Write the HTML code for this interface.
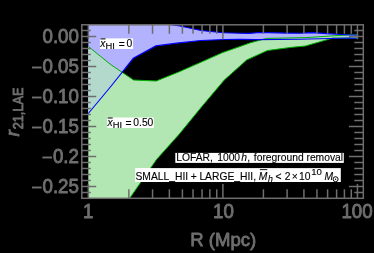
<!DOCTYPE html>
<html>
<head>
<meta charset="utf-8">
<style>
html,body{margin:0;padding:0;background:#000;width:374px;height:253px;overflow:hidden}
svg{position:absolute;left:0;top:0;display:block;will-change:transform;filter:blur(0.3px)}
text{font-family:"Liberation Sans",sans-serif}
.tl{fill:#6e6e6e;font-size:19px;stroke:#6e6e6e;stroke-width:0.85px;stroke-linejoin:round}
.an{fill:#000;font-size:10.3px;stroke:#000;stroke-width:0.12px}
</style>
</head>
<body>
<svg width="374" height="253" viewBox="0 0 374 253">
<defs>
<clipPath id="cp"><rect x="81.8" y="24.8" width="281.5" height="173.5"/></clipPath>
<clipPath id="bl"><polygon points="88.3,-20 150,10 170,24.5 180,26 201,30.5 223,32.7 240,33.2 249,33.4 260,32.5 286,33.1 300,33.3 312,32.6 326.7,33.6 350,35 357.3,35.1 357.3,38.2 350,38 300,39.3 256,39.6 240,39.4 225,39.5 201,40.5 178.7,42.9 155.9,45.9 133.3,58.3 110.8,86.5 88.3,113.5"/></clipPath>
</defs>
<rect x="0" y="0" width="374" height="253" fill="#000"/>
<g clip-path="url(#cp)">
<polygon fill="#b2e6b2" points="88.3,46.5 110.9,64.7 133.5,80 156.3,81 178.7,72 201.3,62.1 222.6,52.6 240,46.5 250.3,42.8 266.7,38.4 306,37.6 350,34.8 357.3,34.6 357.3,38.2 332.8,38.1 305.3,46 291.7,47.3 267.4,50.5 246.7,59.9 224.2,80.1 201.7,106.7 179.1,134.3 156.5,159.5 129.2,199 110.4,226 88.3,260"/>
<polygon fill="#b2b2ff" points="88.3,-20 150,10 170,24.5 180,26 201,30.5 223,32.7 240,33.2 249,33.4 260,32.5 286,33.1 300,33.3 312,32.6 326.7,33.6 350,35 357.3,35.1 357.3,38.2 350,38 300,39.3 256,39.6 240,39.4 225,39.5 201,40.5 178.7,42.9 155.9,45.9 133.3,58.3 110.8,86.5 88.3,113.5"/>
<g clip-path="url(#bl)"><polygon fill="#b3d8cc" points="88.3,46.5 110.9,64.7 133.5,80 156.3,81 178.7,72 201.3,62.1 222.6,52.6 240,46.5 250.3,42.8 266.7,38.4 306,37.6 350,34.8 357.3,34.6 357.3,38.2 332.8,38.1 305.3,46 291.7,47.3 267.4,50.5 246.7,59.9 224.2,80.1 201.7,106.7 179.1,134.3 156.5,159.5 129.2,199 110.4,226 88.3,260"/></g>
<polyline fill="none" stroke="#00b000" stroke-width="1.0" points="88.3,46.5 110.9,64.7 133.5,80 156.3,81 178.7,72 201.3,62.1 222.6,52.6 240,46.5 250.3,42.8 266.7,38.4 306,37.6 350,34.8 357.3,34.6"/>
<polyline fill="none" stroke="#00b000" stroke-width="1.0" points="357.3,38.2 332.8,38.1 305.3,46 291.7,47.3 267.4,50.5 246.7,59.9 224.2,80.1 201.7,106.7 179.1,134.3 156.5,159.5 129.2,199 110.4,226 88.3,260"/>
<polyline fill="none" stroke="#0000ff" stroke-width="1.1" points="88.3,-20 150,10 170,24.5 180,26 201,30.5 223,32.7 240,33.2 249,33.4 260,32.5 286,33.1 300,33.3 312,32.6 326.7,33.6 350,35 357.3,35.1"/>
<polyline fill="none" stroke="#0000ff" stroke-width="1.1" points="357.3,38.2 350,38 300,39.3 256,39.6 240,39.4 225,39.5 201,40.5 178.7,42.9 155.9,45.9 133.3,58.3 110.8,86.5 88.3,113.5"/>
</g>
<g stroke="#6e6e6e" stroke-width="1.5" fill="none">
<rect x="81.8" y="24.8" width="281.5" height="173.5"/>
<line x1="88.35" y1="198.30" x2="88.35" y2="183.90"/>
<line x1="88.35" y1="24.80" x2="88.35" y2="39.20"/>
<line x1="128.85" y1="198.30" x2="128.85" y2="189.30"/>
<line x1="128.85" y1="24.80" x2="128.85" y2="33.80"/>
<line x1="152.55" y1="198.30" x2="152.55" y2="189.30"/>
<line x1="152.55" y1="24.80" x2="152.55" y2="33.80"/>
<line x1="169.36" y1="198.30" x2="169.36" y2="189.30"/>
<line x1="169.36" y1="24.80" x2="169.36" y2="33.80"/>
<line x1="182.40" y1="198.30" x2="182.40" y2="189.30"/>
<line x1="182.40" y1="24.80" x2="182.40" y2="33.80"/>
<line x1="193.05" y1="198.30" x2="193.05" y2="189.30"/>
<line x1="193.05" y1="24.80" x2="193.05" y2="33.80"/>
<line x1="202.06" y1="198.30" x2="202.06" y2="189.30"/>
<line x1="202.06" y1="24.80" x2="202.06" y2="33.80"/>
<line x1="209.86" y1="198.30" x2="209.86" y2="189.30"/>
<line x1="209.86" y1="24.80" x2="209.86" y2="33.80"/>
<line x1="216.74" y1="198.30" x2="216.74" y2="189.30"/>
<line x1="216.74" y1="24.80" x2="216.74" y2="33.80"/>
<line x1="222.90" y1="198.30" x2="222.90" y2="183.90"/>
<line x1="222.90" y1="24.80" x2="222.90" y2="39.20"/>
<line x1="263.40" y1="198.30" x2="263.40" y2="189.30"/>
<line x1="263.40" y1="24.80" x2="263.40" y2="33.80"/>
<line x1="287.10" y1="198.30" x2="287.10" y2="189.30"/>
<line x1="287.10" y1="24.80" x2="287.10" y2="33.80"/>
<line x1="303.91" y1="198.30" x2="303.91" y2="189.30"/>
<line x1="303.91" y1="24.80" x2="303.91" y2="33.80"/>
<line x1="316.95" y1="198.30" x2="316.95" y2="189.30"/>
<line x1="316.95" y1="24.80" x2="316.95" y2="33.80"/>
<line x1="327.60" y1="198.30" x2="327.60" y2="189.30"/>
<line x1="327.60" y1="24.80" x2="327.60" y2="33.80"/>
<line x1="336.61" y1="198.30" x2="336.61" y2="189.30"/>
<line x1="336.61" y1="24.80" x2="336.61" y2="33.80"/>
<line x1="344.41" y1="198.30" x2="344.41" y2="189.30"/>
<line x1="344.41" y1="24.80" x2="344.41" y2="33.80"/>
<line x1="351.29" y1="198.30" x2="351.29" y2="189.30"/>
<line x1="351.29" y1="24.80" x2="351.29" y2="33.80"/>
<line x1="357.45" y1="198.30" x2="357.45" y2="183.90"/>
<line x1="357.45" y1="24.80" x2="357.45" y2="39.20"/>
<line x1="81.80" y1="30.50" x2="90.80" y2="30.50"/>
<line x1="363.30" y1="30.50" x2="354.30" y2="30.50"/>
<line x1="81.80" y1="36.50" x2="96.20" y2="36.50"/>
<line x1="363.30" y1="36.50" x2="348.90" y2="36.50"/>
<line x1="81.80" y1="42.50" x2="90.80" y2="42.50"/>
<line x1="363.30" y1="42.50" x2="354.30" y2="42.50"/>
<line x1="81.80" y1="48.50" x2="90.80" y2="48.50"/>
<line x1="363.30" y1="48.50" x2="354.30" y2="48.50"/>
<line x1="81.80" y1="54.50" x2="90.80" y2="54.50"/>
<line x1="363.30" y1="54.50" x2="354.30" y2="54.50"/>
<line x1="81.80" y1="60.50" x2="90.80" y2="60.50"/>
<line x1="363.30" y1="60.50" x2="354.30" y2="60.50"/>
<line x1="81.80" y1="66.50" x2="96.20" y2="66.50"/>
<line x1="363.30" y1="66.50" x2="348.90" y2="66.50"/>
<line x1="81.80" y1="72.50" x2="90.80" y2="72.50"/>
<line x1="363.30" y1="72.50" x2="354.30" y2="72.50"/>
<line x1="81.80" y1="78.50" x2="90.80" y2="78.50"/>
<line x1="363.30" y1="78.50" x2="354.30" y2="78.50"/>
<line x1="81.80" y1="84.50" x2="90.80" y2="84.50"/>
<line x1="363.30" y1="84.50" x2="354.30" y2="84.50"/>
<line x1="81.80" y1="90.50" x2="90.80" y2="90.50"/>
<line x1="363.30" y1="90.50" x2="354.30" y2="90.50"/>
<line x1="81.80" y1="96.50" x2="96.20" y2="96.50"/>
<line x1="363.30" y1="96.50" x2="348.90" y2="96.50"/>
<line x1="81.80" y1="102.50" x2="90.80" y2="102.50"/>
<line x1="363.30" y1="102.50" x2="354.30" y2="102.50"/>
<line x1="81.80" y1="108.50" x2="90.80" y2="108.50"/>
<line x1="363.30" y1="108.50" x2="354.30" y2="108.50"/>
<line x1="81.80" y1="114.50" x2="90.80" y2="114.50"/>
<line x1="363.30" y1="114.50" x2="354.30" y2="114.50"/>
<line x1="81.80" y1="120.50" x2="90.80" y2="120.50"/>
<line x1="363.30" y1="120.50" x2="354.30" y2="120.50"/>
<line x1="81.80" y1="126.50" x2="96.20" y2="126.50"/>
<line x1="363.30" y1="126.50" x2="348.90" y2="126.50"/>
<line x1="81.80" y1="132.50" x2="90.80" y2="132.50"/>
<line x1="363.30" y1="132.50" x2="354.30" y2="132.50"/>
<line x1="81.80" y1="138.50" x2="90.80" y2="138.50"/>
<line x1="363.30" y1="138.50" x2="354.30" y2="138.50"/>
<line x1="81.80" y1="144.50" x2="90.80" y2="144.50"/>
<line x1="363.30" y1="144.50" x2="354.30" y2="144.50"/>
<line x1="81.80" y1="150.50" x2="90.80" y2="150.50"/>
<line x1="363.30" y1="150.50" x2="354.30" y2="150.50"/>
<line x1="81.80" y1="156.50" x2="96.20" y2="156.50"/>
<line x1="363.30" y1="156.50" x2="348.90" y2="156.50"/>
<line x1="81.80" y1="162.50" x2="90.80" y2="162.50"/>
<line x1="363.30" y1="162.50" x2="354.30" y2="162.50"/>
<line x1="81.80" y1="168.50" x2="90.80" y2="168.50"/>
<line x1="363.30" y1="168.50" x2="354.30" y2="168.50"/>
<line x1="81.80" y1="174.50" x2="90.80" y2="174.50"/>
<line x1="363.30" y1="174.50" x2="354.30" y2="174.50"/>
<line x1="81.80" y1="180.50" x2="90.80" y2="180.50"/>
<line x1="363.30" y1="180.50" x2="354.30" y2="180.50"/>
<line x1="81.80" y1="186.50" x2="96.20" y2="186.50"/>
<line x1="363.30" y1="186.50" x2="348.90" y2="186.50"/>
<line x1="81.80" y1="192.50" x2="90.80" y2="192.50"/>
<line x1="363.30" y1="192.50" x2="354.30" y2="192.50"/>
</g>
<g class="tl">
<text transform="translate(78.90,43.00) scale(0.985,1.030)" text-anchor="end">0.00</text>
<rect x="31.98" y="66.55" width="9.6" height="1.9" fill="#6e6e6e" stroke="none"/>
<text transform="translate(78.90,73.00) scale(0.985,1.030)" text-anchor="end">0.05</text>
<rect x="31.98" y="96.55" width="9.6" height="1.9" fill="#6e6e6e" stroke="none"/>
<text transform="translate(78.90,103.00) scale(0.985,1.030)" text-anchor="end">0.10</text>
<rect x="31.98" y="126.55" width="9.6" height="1.9" fill="#6e6e6e" stroke="none"/>
<text transform="translate(78.90,133.00) scale(0.985,1.030)" text-anchor="end">0.15</text>
<rect x="42.39" y="156.55" width="9.6" height="1.9" fill="#6e6e6e" stroke="none"/>
<text transform="translate(78.90,163.00) scale(0.985,1.030)" text-anchor="end">0.2</text>
<rect x="31.98" y="186.55" width="9.6" height="1.9" fill="#6e6e6e" stroke="none"/>
<text transform="translate(78.90,193.00) scale(0.985,1.030)" text-anchor="end">0.25</text>
<text transform="translate(88.30,218.20) scale(0.985,1.030)" text-anchor="middle">1</text>
<text transform="translate(223.50,218.20) scale(0.985,1.030)" text-anchor="middle">10</text>
<text transform="translate(357.00,218.20) scale(0.985,1.030)" text-anchor="middle">100</text>
<text transform="translate(223.20,245.90) scale(0.975,0.960)" text-anchor="middle">R (Mpc)</text>
<text transform="translate(18.7,136.4) rotate(-90)" font-style="italic">r</text>
<text transform="translate(22.9,129.3) rotate(-90) scale(0.85,1)" font-size="15px">21,LAE</text>
</g>
<!-- annotations -->
<g class="an">
<rect x="99.9" y="38.4" width="33.2" height="10.6" fill="#fff" stroke="none"/>
<text x="100.2" y="46.7" font-style="italic">x</text>
<text x="105.4" y="48.5" font-size="9.4px">HI</text>
<text x="118.8" y="47.9">=</text>
<text x="126.5" y="46.6">0</text>
<rect x="100.4" y="38.4" width="5.1" height="1" fill="#000" stroke="none"/>

<rect x="107.3" y="117.5" width="46.5" height="10.5" fill="#fff" stroke="none"/>
<text x="107.5" y="125.9" font-style="italic">x</text>
<text x="112.7" y="127.7" font-size="9.4px">HI</text>
<text x="125.6" y="127.1">=</text>
<text x="133.3" y="125.9">0.50</text>
<rect x="107.7" y="117.5" width="5" height="1" fill="#000" stroke="none"/>

<rect x="175.3" y="152.9" width="168.5" height="10" fill="#fff" stroke="none"/>
<text x="176.3" y="161.4">LOFAR,</text>
<text x="217.2" y="161.4">1000</text>
<text x="241.3" y="161.4" font-style="italic">h</text>
<text x="247.3" y="161.4">,</text>
<text x="253.8" y="161.4">foreground removal</text>

<rect x="135.2" y="168.1" width="205.6" height="13.9" fill="#fff" stroke="none"/>
<text x="135.5" y="179.8">SMALL_HII</text>
<text x="190.7" y="179.8">+</text>
<text x="199.4" y="179.8">LARGE_HII,</text>
<text x="258.7" y="179.9" font-style="italic">M</text>
<rect x="259.8" y="169.2" width="7.5" height="0.9" fill="#000" stroke="none"/>
<text x="268" y="181.6" font-size="8.8px" font-style="italic">h</text>
<text x="275.6" y="179.9">&lt;</text>
<text x="284.7" y="179.9">2</text>
<text x="291.7" y="179.9">×</text>
<text x="299.1" y="179.9">10</text>
<text x="311.2" y="174.7" font-size="9.6px">10</text>
<text x="324.5" y="179.9" font-style="italic">M</text>
<circle cx="335.6" cy="179.2" r="2.5" fill="none" stroke="#000" stroke-width="1.0"/>
<circle cx="335.6" cy="179.2" r="0.7" fill="#000" stroke="none"/>
</g>
</svg>
</body>
</html>
